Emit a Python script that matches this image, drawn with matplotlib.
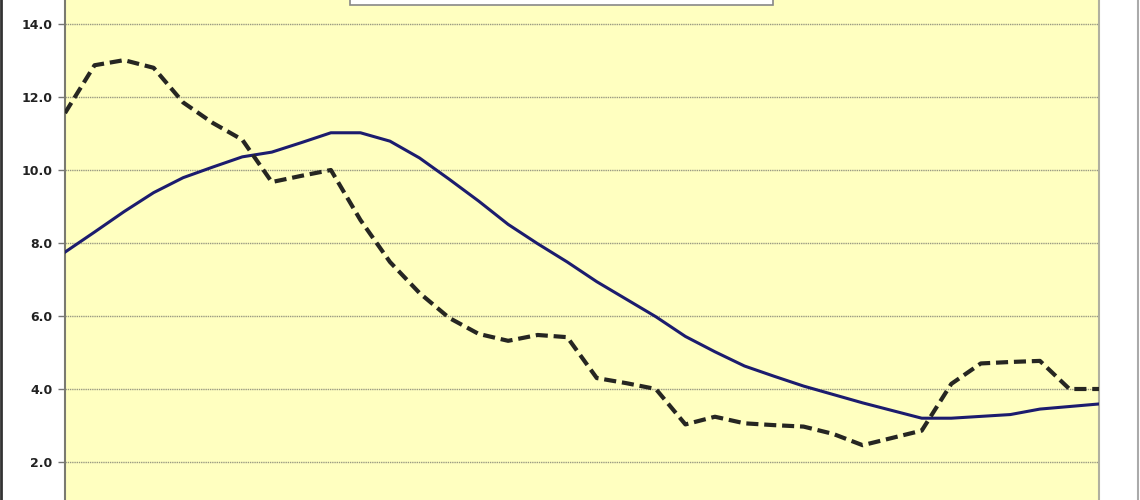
import matplotlib.pyplot as plt
from matplotlib.lines import Line2D
import numpy as np

# quarterly points, 36 of them
periods = np.arange(36)

# solid navy line
trend = [7.75, 8.30, 8.86, 9.38, 9.79, 10.08, 10.36, 10.49, 10.75, 11.02,
         11.02, 10.79, 10.33, 9.75, 9.15, 8.51, 7.98, 7.48, 6.94, 6.46,
         5.98, 5.44, 5.02, 4.63, 4.35, 4.08, 3.85, 3.62, 3.41, 3.20,
         3.20, 3.25, 3.30, 3.45, 3.52, 3.59]

# dashed black line
actual = [11.56, 12.87, 13.01, 12.80, 11.85, 11.29, 10.83, 9.67, 9.84, 10.0,
          8.63, 7.48, 6.63, 5.95, 5.51, 5.32, 5.48, 5.42, 4.30, 4.16,
          4.00, 3.03, 3.24, 3.06, 3.01, 2.97, 2.77, 2.46, 2.66, 2.86,
          4.14, 4.70, 4.74, 4.77, 4.00, 4.00]

yticks = [2.0, 4.0, 6.0, 8.0, 10.0, 12.0, 14.0]
legend_labels = ["Quarterly change (yearly average)", "Yearly change (%)"]

W, H = 1140, 500
fig = plt.figure(figsize=(W / 100, H / 100), dpi=100)
fig.patch.set_facecolor("white")

left, right = 65, 1099
ax = fig.add_axes([left / W, 0, (right - left) / W, 1])
ax.set_facecolor("#FFFFC0")

# 14.0 sits at pixel 24, 2.0 at pixel 462
ppu = (462 - 24) / 12.0
ax.set_ylim(14 - (H - 24) / ppu, 14 + 24 / ppu)
ax.set_xlim(periods[0], periods[-1])

dash = (0, (2.9, 1.4))
ax.plot(periods, trend, color="#1c1c6e", lw=2.2, solid_joinstyle="round", zorder=3)
ax.plot(periods, actual, color="#262622", lw=3.0, linestyle=dash, zorder=3)

ax.set_yticks(yticks)
ax.set_yticklabels(["%.1f" % v for v in yticks], fontsize=9, fontweight="bold", color="#222222")
ax.set_xticks([])
ax.tick_params(axis="y", direction="out", length=5, width=1, color="#777777", pad=4)
ax.grid(axis="y", color="#9a9a82", lw=1.0, linestyle=(0, (1, 0.6)))
ax.set_axisbelow(True)

for s in ["top", "bottom"]:
    ax.spines[s].set_visible(False)
ax.spines["left"].set_color("#7a7a70")
ax.spines["left"].set_linewidth(1.5)
ax.spines["right"].set_color("#b0b0a0")
ax.spines["right"].set_linewidth(1.5)

# legend box, almost entirely above the visible area
handles = [Line2D([], [], color="#1c1c6e", lw=2.2),
           Line2D([], [], color="#262622", lw=3.0, linestyle=dash)]
leg = fig.legend(handles, legend_labels, loc="lower left", ncol=2, mode="expand",
                 bbox_to_anchor=(350 / W, 1 - 5 / H, (773 - 350) / W, 0.06),
                 fontsize=9, frameon=True, fancybox=False, framealpha=1,
                 edgecolor="#888888", borderaxespad=0)
leg.get_frame().set_linewidth(1.2)

# outer chart border
fig.add_artist(Line2D([1.2 / W, 1.2 / W], [0, 1], color="#333333", lw=2.0))
fig.add_artist(Line2D([1137.5 / W, 1137.5 / W], [0, 1], color="#aaaaaa", lw=1.5))

fig.savefig("out.png", dpi=100)
